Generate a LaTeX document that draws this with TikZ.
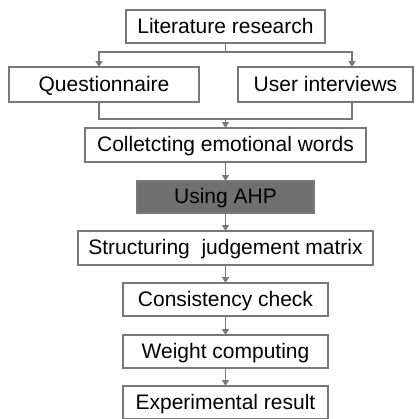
\documentclass[tikz,border=0pt]{standalone}
\usepackage{fontspec}
\setmainfont{Liberation Sans}
\usepackage{xcolor}
\usepackage{tikz}
\usetikzlibrary{arrows.meta, positioning, calc}
\definecolor{linegray}{RGB}{120,120,120}
\definecolor{ahpgray}{RGB}{112,112,112}

\begin{document}
\begin{tikzpicture}[
    node distance=9pt,
    block/.style={rectangle, draw=linegray, fill=white, minimum height=16.5pt, inner sep=0pt, outer sep=0pt, text height=8.5pt, text depth=2pt, align=center, font=\fontsize{10.5}{12.6}\selectfont, line width=0.75pt},
    arrow/.style={-{Triangle[length=3pt, width=3.5pt]}, line width=0.6pt, draw=linegray},
    line/.style={line width=0.6pt, draw=linegray},
]
\useasboundingbox (-112.75pt,13.25pt) rectangle (97.25pt,-196.25pt);
\node[block, minimum width=99.5pt] (lit) at (0,0) {Literature research};
\node[block, minimum width=95pt, minimum height=17.5pt, below=12pt of lit, xshift=-60.75pt] (quest) {Questionnaire};
\node[block, minimum width=87.5pt, minimum height=17.5pt, below=12pt of lit, xshift=50pt] (interv) {User interviews};
\node[block, minimum width=140.5pt, minimum height=17pt, below=13pt of lit.south |- quest.south, anchor=north] (words) {Colletcting emotional words};
\node[block, minimum width=88.5pt, minimum height=16pt, below=9.5pt of words, fill=ahpgray] (ahp) {Using AHP};
\node[block, minimum width=147.5pt, minimum height=17pt, below=of ahp] (matrix) {Structuring\ \ judgement matrix};
\node[block, minimum width=102.5pt, below=of matrix] (check) {Consistency check};
\node[block, minimum width=102.5pt, below=9.5pt of check] (weight) {Weight computing};
\node[block, minimum width=102.5pt, below=of weight] (result) {Experimental result};

\coordinate[above=4.5pt of words.north] (join);

\draw[arrow] (lit.south) -- ++(0,-4.5pt) -| ([xshift=-2.5pt]quest.north);
\draw[arrow] (lit.south) -- ++(0,-4.5pt) -| ([xshift=13.25pt]interv.north);
\draw[line] ([xshift=-2.5pt]quest.south) |- (join) -| ([xshift=13.25pt]interv.south);
\draw[arrow] (join) -- (words);
\draw[arrow] (words) -- (ahp);
\draw[arrow] (ahp) -- (matrix);
\draw[arrow] (matrix) -- (check);
\draw[arrow] (check) -- (weight);
\draw[arrow] (weight) -- (result);
\end{tikzpicture}
\end{document}
